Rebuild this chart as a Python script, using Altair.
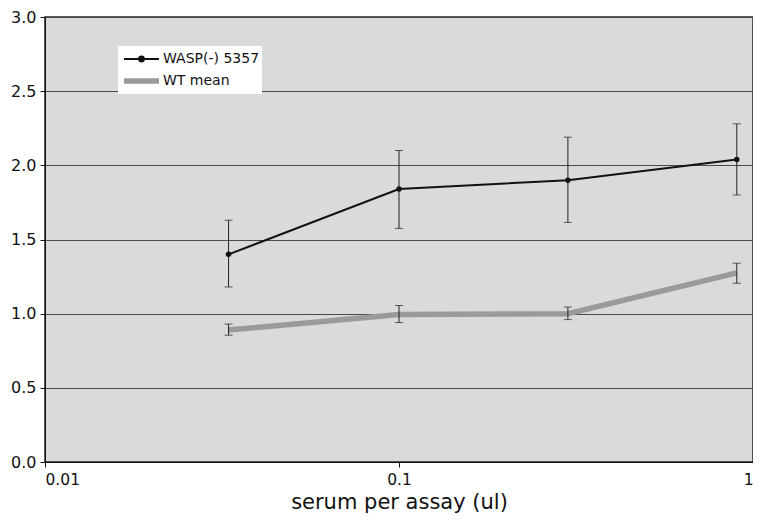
import altair as alt
import pandas as pd

series_names = ["WASP(-) 5357", "WT mean"]
x_vals = [0.033, 0.1, 0.3, 0.9]
wasp_y = [1.40, 1.84, 1.90, 2.04]
wasp_lo = [1.18, 1.575, 1.615, 1.80]
wasp_hi = [1.63, 2.10, 2.19, 2.28]
wt_y = [0.89, 0.995, 1.0, 1.275]
wt_lo = [0.855, 0.94, 0.96, 1.205]
wt_hi = [0.93, 1.055, 1.045, 1.34]

rows = []
for s, ys, los, his in [(series_names[0], wasp_y, wasp_lo, wasp_hi),
                        (series_names[1], wt_y, wt_lo, wt_hi)]:
    for x, y, lo, hi in zip(x_vals, ys, los, his):
        rows.append({"series": s, "x": x, "y": y, "lo": lo, "hi": hi})
df = pd.DataFrame(rows)

FONT = "DejaVu Sans"

xscale = alt.Scale(type="log", domain=[0.01, 1], nice=False)
yscale = alt.Scale(domain=[0, 3], nice=False)

xax = alt.Axis(values=[0.01, 0.1, 1], format="~g", title="serum per assay (ul)",
               grid=False, tickSize=5, labelFontSize=15.5, titleFontSize=21,
               titleFontWeight="normal", labelColor="#111", titleColor="#111",
               domainColor="#111", tickColor="#111", labelPadding=5, titlePadding=4,
               labelFont=FONT, titleFont=FONT)
yax = alt.Axis(values=[0, 0.5, 1, 1.5, 2, 2.5, 3], format=".1f", title=None,
               grid=True, gridColor="#4a4a4a", gridWidth=1, tickSize=5,
               labelFontSize=16, labelColor="#111", domainColor="#111",
               tickColor="#111", labelFont=FONT, labelPadding=4)

DOT_PATH = "M-1.75,0H1.75M0.24,0A0.24,0.24,0,1,1,-0.24,0A0.24,0.24,0,1,1,0.24,0Z"
LINE_PATH = "M-1.75,0H1.75"

def leg():
    return alt.Legend(
        title=None, orient="none", legendX=73, legendY=29,
        fillColor="white", padding=2, labelFontSize=14,
        labelFont=FONT, labelColor="#111",
        symbolType=LINE_PATH, symbolSize=400, symbolOffset=8.5,
        labelOffset=8.5, rowPadding=2,
    )

color_scale = alt.Scale(domain=series_names, range=["#111111", "#9a9a9a"])

base = alt.Chart(df)

lines = base.mark_line().encode(
    x=alt.X("x:Q", scale=xscale, axis=xax),
    y=alt.Y("y:Q", scale=yscale, axis=yax),
    color=alt.Color("series:N", scale=color_scale, legend=leg()),
    strokeWidth=alt.StrokeWidth("series:N",
                                scale=alt.Scale(domain=series_names, range=[2, 5.5]),
                                legend=leg()),
)

errs = base.mark_rule(color="#222", strokeWidth=1).encode(
    x="x:Q", y="lo:Q", y2="hi:Q")
caps_lo = base.mark_tick(color="#222", thickness=1, size=8, orient="horizontal").encode(
    x="x:Q", y="lo:Q")
caps_hi = base.mark_tick(color="#222", thickness=1, size=8, orient="horizontal").encode(
    x="x:Q", y="hi:Q")

wasp_df = df[df["series"] == series_names[0]]

# layer that only supplies the legend symbol shapes (its tiny marks sit under the dots)
shape_layer = alt.Chart(wasp_df).mark_point(filled=True, size=20, opacity=1).encode(
    x="x:Q", y="y:Q",
    color=alt.Color("series:N", scale=color_scale, legend=leg()),
    shape=alt.Shape("series:N",
                    scale=alt.Scale(domain=series_names, range=[DOT_PATH, LINE_PATH]),
                    legend=leg()),
)

pts = alt.Chart(wasp_df).mark_circle(color="#111", size=30, opacity=1).encode(
    x="x:Q", y="y:Q")

chart = alt.layer(lines, errs, caps_lo, caps_hi, shape_layer, pts).properties(
    width=708, height=445,
    background="white",
    autosize=alt.AutoSizeParams(type="none"),
    padding={"left": 37, "top": 9, "right": 0, "bottom": 54},
).configure_view(fill="#d9dad9", stroke="#222", strokeWidth=1.5)

chart.save("out.html", embed_options={"renderer": "svg", "actions": False})
